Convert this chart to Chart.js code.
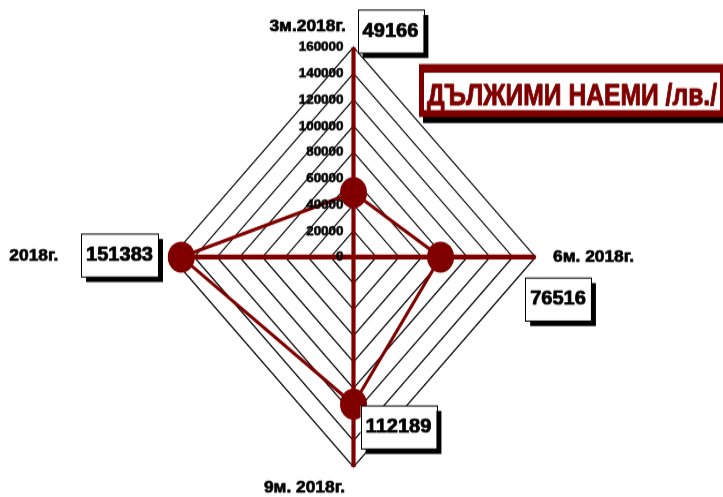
<!DOCTYPE html>
<html><head><meta charset="utf-8">
<script src="https://cdn.jsdelivr.net/npm/chart.js@4.4.1/dist/chart.umd.min.js"></script>
<style>
html,body{margin:0;padding:0;background:#fff;overflow:hidden;width:723px;height:497px;}
#wrap{position:absolute;left:0;top:0;width:723px;height:431px;transform:scaleY(1.153132);transform-origin:0 0;}
</style></head><body>
<div id="wrap"><canvas id="c" width="723" height="431"></canvas></div>
<script>
// ---- data ----
const categories = ['3м.2018г.', '6м. 2018г.', '9м. 2018г.', '2018г.'];
const values = [49166, 76516, 112189, 151383];
const scaleMin = 0;
const scaleMax = 160000;
const scaleStep = 20000;
const titleText = 'ДЪЛЖИМИ НАЕМИ /лв./';

// ---- styles / layout ----
const DARK_RED = '#800000';
const FAM = '"Liberation Sans", Arial, sans-serif';
const geom = { cx: 353.5, cy: 222.9, r: 182 };
const tickStyle = { font: 'bold 11px ' + FAM, sx: 1.22, dx: -10, dy: 0.5, stroke: 0.5 };
const pointLabelStyle = { font: 'bold 14px ' + FAM, sx: 1.24, stroke: 0.6 };
const pointLabelPlace = [
  { align: 'right', dx: -7.8, dy: -17.8 },
  { align: 'left', dx: 17.5, dy: 0.4 },
  { align: 'right', dx: -8.5, dy: 18.3 },
  { align: 'right', dx: -113.2, dy: -0.9 }
];
const dataLabelStyle = { font: 'bold 17px ' + FAM, sx: 1.18, padX: 5, h: 37.3, shadowX: 5, shadowY: 4.3, stroke: 0.7 };
const dataLabelOffsets = [
  { dx: 37, dy: -139.6 },
  { dx: 117.5, dy: 36.9 },
  { dx: 45, dy: 20.2 },
  { dx: -61.8, dy: -1.3 }
];
const titleBox = { x: 419, y: 55.5, w: 306, h: 46, bl: 5, bt: 7.5, bb: 6, br: 5,
  shadowX: 4, shadowY: 5.2, textX: 427, textY: 83.8, textW: 290, font: 'bold 25px ' + FAM, stroke: 0.8 };

function drawText(ctx, text, x, y, align, font, sx, color, stroke) {
  ctx.save();
  ctx.font = font;
  ctx.textBaseline = 'middle';
  ctx.textAlign = 'left';
  ctx.fillStyle = color || '#000';
  const w = ctx.measureText(text).width * sx;
  const left = align === 'right' ? x - w : (align === 'center' ? x - w / 2 : x);
  ctx.translate(left, y);
  ctx.scale(sx, 1);
  ctx.fillText(text, 0, 0);
  if (stroke) {
    ctx.strokeStyle = color || '#000';
    ctx.lineWidth = stroke;
    ctx.lineJoin = 'round';
    ctx.strokeText(text, 0, 0);
  }
  ctx.restore();
  return w;
}

const overlay = {
  id: 'overlay',
  afterDatasetsDraw(chart) {
    const ctx = chart.ctx;
    const sc = chart.scales.r;
    // tick labels
    sc.ticks.forEach(t => {
      const d = sc.getDistanceFromCenterForValue(t.value);
      drawText(ctx, String(t.value), sc.xCenter + tickStyle.dx, sc.yCenter - d + tickStyle.dy,
        'right', tickStyle.font, tickStyle.sx, '#000', tickStyle.stroke);
    });
    // axis (category) labels
    categories.forEach((c, i) => {
      const tip = sc.getPointPosition(i, sc.drawingArea);
      const p = pointLabelPlace[i];
      drawText(ctx, c, tip.x + p.dx, tip.y + p.dy, p.align, pointLabelStyle.font, pointLabelStyle.sx, '#000', pointLabelStyle.stroke);
    });
    // value boxes
    const meta = chart.getDatasetMeta(0);
    meta.data.forEach((pt, i) => {
      const txt = String(values[i]);
      ctx.save();
      ctx.font = dataLabelStyle.font;
      const tw = ctx.measureText(txt).width * dataLabelStyle.sx;
      ctx.restore();
      const bw = tw + dataLabelStyle.padX * 2;
      const bh = dataLabelStyle.h;
      const cx = pt.x + dataLabelOffsets[i].dx;
      const cy = pt.y + dataLabelOffsets[i].dy;
      const x0 = cx - bw / 2, y0 = cy - bh / 2;
      ctx.save();
      ctx.fillStyle = '#000';
      ctx.fillRect(x0 + dataLabelStyle.shadowX, y0 + dataLabelStyle.shadowY, bw, bh);
      ctx.fillStyle = '#fff';
      ctx.fillRect(x0, y0, bw, bh);
      ctx.strokeStyle = '#000';
      ctx.lineWidth = 1;
      ctx.strokeRect(Math.round(x0) + 0.5, y0, Math.round(bw), bh);
      ctx.restore();
      drawText(ctx, txt, cx, cy, 'center', dataLabelStyle.font, dataLabelStyle.sx, '#000', dataLabelStyle.stroke);
    });
  },
  afterDraw(chart) {
    const ctx = chart.ctx;
    const b = titleBox;
    ctx.save();
    ctx.fillStyle = '#000';
    ctx.fillRect(b.x + b.shadowX, b.y + b.shadowY, b.w, b.h);
    ctx.fillStyle = DARK_RED;
    ctx.fillRect(b.x, b.y, b.w, b.h);
    ctx.fillStyle = '#fff';
    ctx.fillRect(b.x + b.bl, b.y + b.bt, b.w - b.bl - b.br, b.h - b.bt - b.bb);
    ctx.font = b.font;
    const natural = ctx.measureText(titleText).width;
    ctx.restore();
    drawText(ctx, titleText, b.textX, b.textY, 'left', b.font, b.textW / natural, DARK_RED, b.stroke);
  }
};

new Chart(document.getElementById('c'), {
  type: 'radar',
  data: {
    labels: categories,
    datasets: [{
      data: values,
      borderColor: DARK_RED,
      borderWidth: 3,
      backgroundColor: 'rgba(0,0,0,0)',
      fill: false,
      tension: 0,
      pointRadius: 13.5,
      pointHoverRadius: 13.5,
      pointBackgroundColor: DARK_RED,
      pointBorderColor: DARK_RED,
      pointBorderWidth: 0
    }]
  },
  options: {
    responsive: false,
    animation: false,
    events: [],
    plugins: { legend: { display: false }, tooltip: { enabled: false } },
    scales: {
      r: {
        min: scaleMin,
        max: scaleMax,
        beginAtZero: true,
        ticks: { stepSize: scaleStep, display: false },
        pointLabels: { display: false },
        grid: { color: '#000', lineWidth: 1.2, circular: false },
        angleLines: { color: DARK_RED, lineWidth: 4.2 },
        afterFit(scale) {
          scale.xCenter = geom.cx;
          scale.yCenter = geom.cy;
          scale.drawingArea = geom.r;
        }
      }
    }
  },
  plugins: [overlay]
});
</script>
</body></html>
